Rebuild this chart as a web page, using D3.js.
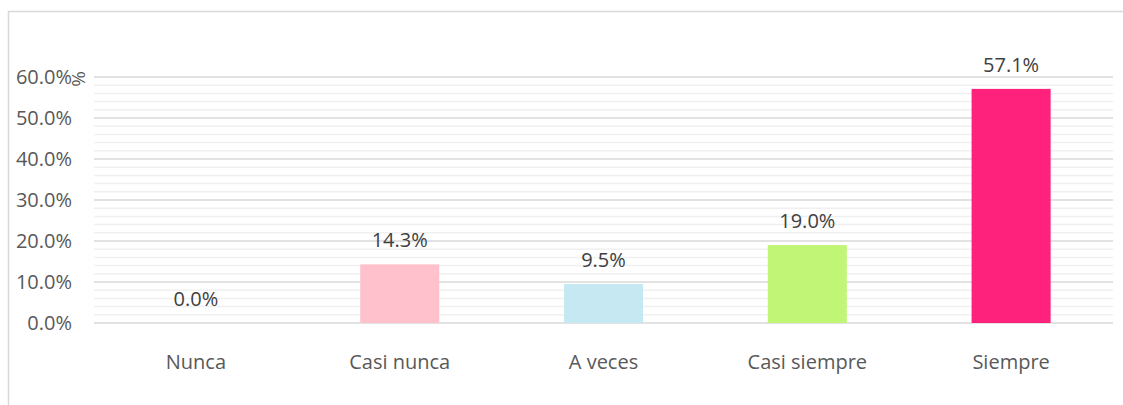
<!DOCTYPE html>
<html>
<head>
<meta charset="utf-8">
<script src="https://cdn.jsdelivr.net/npm/d3@7"></script>
<style>
  html, body { margin: 0; padding: 0; background: #fff; overflow: hidden; }
  svg { display: block; font-family: "Open Sans", sans-serif; }
</style>
</head>
<body>
<svg id="chart" width="1123" height="405"></svg>
<script>
// Response categories and their shares (percent)
const categories = ["Nunca", "Casi nunca", "A veces", "Casi siempre", "Siempre"];
const values = [0.0, 14.3, 9.5, 19.0, 57.1];
const barColors = ["#ffffff", "#ffc2cd", "#c5e8f2", "#c0f575", "#ff227d"];
const yTicks = [0, 10, 20, 30, 40, 50, 60];
const yMinorTicks = d3.range(0, 60.01, 2);

const svg = d3.select("#chart");
const W = 1123, H = 405;
const margin = { left: 94, right: 10, top: 77, bottom: 82 };
const x0 = margin.left, x1 = W - margin.right;
const yTop = margin.top, yBottom = H - margin.bottom;
const FONT = "'Open Sans', sans-serif";
const FS = "20px";

// Outer chart frame
svg.append("rect")
  .attr("x", 8.5).attr("y", 11.5)
  .attr("width", W + 10).attr("height", H + 10)
  .attr("fill", "none").attr("stroke", "#d9d9d9").attr("stroke-width", 1.5);

const x = d3.scaleBand().domain(categories).range([x0, x1]).paddingInner(0.612).paddingOuter(0.306);
const y = d3.scaleLinear().domain([0, 60]).range([yBottom, yTop]);

// Minor gridlines
svg.append("g").selectAll("line").data(yMinorTicks.filter(v => v % 10 !== 0)).join("line")
  .attr("x1", x0).attr("x2", x1)
  .attr("y1", d => y(d)).attr("y2", d => y(d))
  .attr("stroke", "#f0f0f0").attr("stroke-width", 1.5);

// Major gridlines
svg.append("g").selectAll("line").data(yTicks).join("line")
  .attr("x1", x0).attr("x2", x1)
  .attr("y1", d => y(d)).attr("y2", d => y(d))
  .attr("stroke", "#d9d9d9").attr("stroke-width", 1.5);

// Y axis labels
const yAxis = d3.axisLeft(y).tickValues(yTicks).tickSize(0).tickPadding(22)
  .tickFormat(d => d3.format(".1f")(d) + "%");
const gy = svg.append("g").attr("transform", `translate(${x0},0)`).call(yAxis);
gy.select(".domain").remove();
gy.selectAll("text").attr("fill", "#595959").style("font-size", FS)
  .style("font-family", FONT);

// Rotated axis title
svg.append("text")
  .attr("transform", `translate(${78},${y(60) + 2}) rotate(-90)`)
  .attr("text-anchor", "middle").attr("dy", "0.35em")
  .attr("fill", "#595959").style("font-size", "19px")
  .text("%");

// Bars
const data = categories.map((c, i) => ({ c, v: values[i], color: barColors[i] }));
svg.append("g").selectAll("rect").data(data).join("rect")
  .attr("x", d => x(d.c)).attr("width", x.bandwidth())
  .attr("y", d => y(d.v)).attr("height", d => y(0) - y(d.v))
  .attr("fill", d => d.color);

// Value labels
svg.append("g").selectAll("text").data(data).join("text")
  .attr("x", d => x(d.c) + x.bandwidth() / 2)
  .attr("y", d => y(d.v) - 17)
  .attr("text-anchor", "middle")
  .attr("fill", "#404040").style("font-size", FS)
  .text(d => d3.format(".1f")(d.v) + "%");

// X axis labels
const xAxis = d3.axisBottom(x).tickSize(0);
const gx = svg.append("g").attr("transform", `translate(0,${yBottom})`).call(xAxis);
gx.select(".domain").remove();
gx.selectAll("text").attr("y", 46).attr("dy", 0)
  .attr("fill", "#595959").style("font-size", FS)
  .style("font-family", FONT);
</script>
</body>
</html>
